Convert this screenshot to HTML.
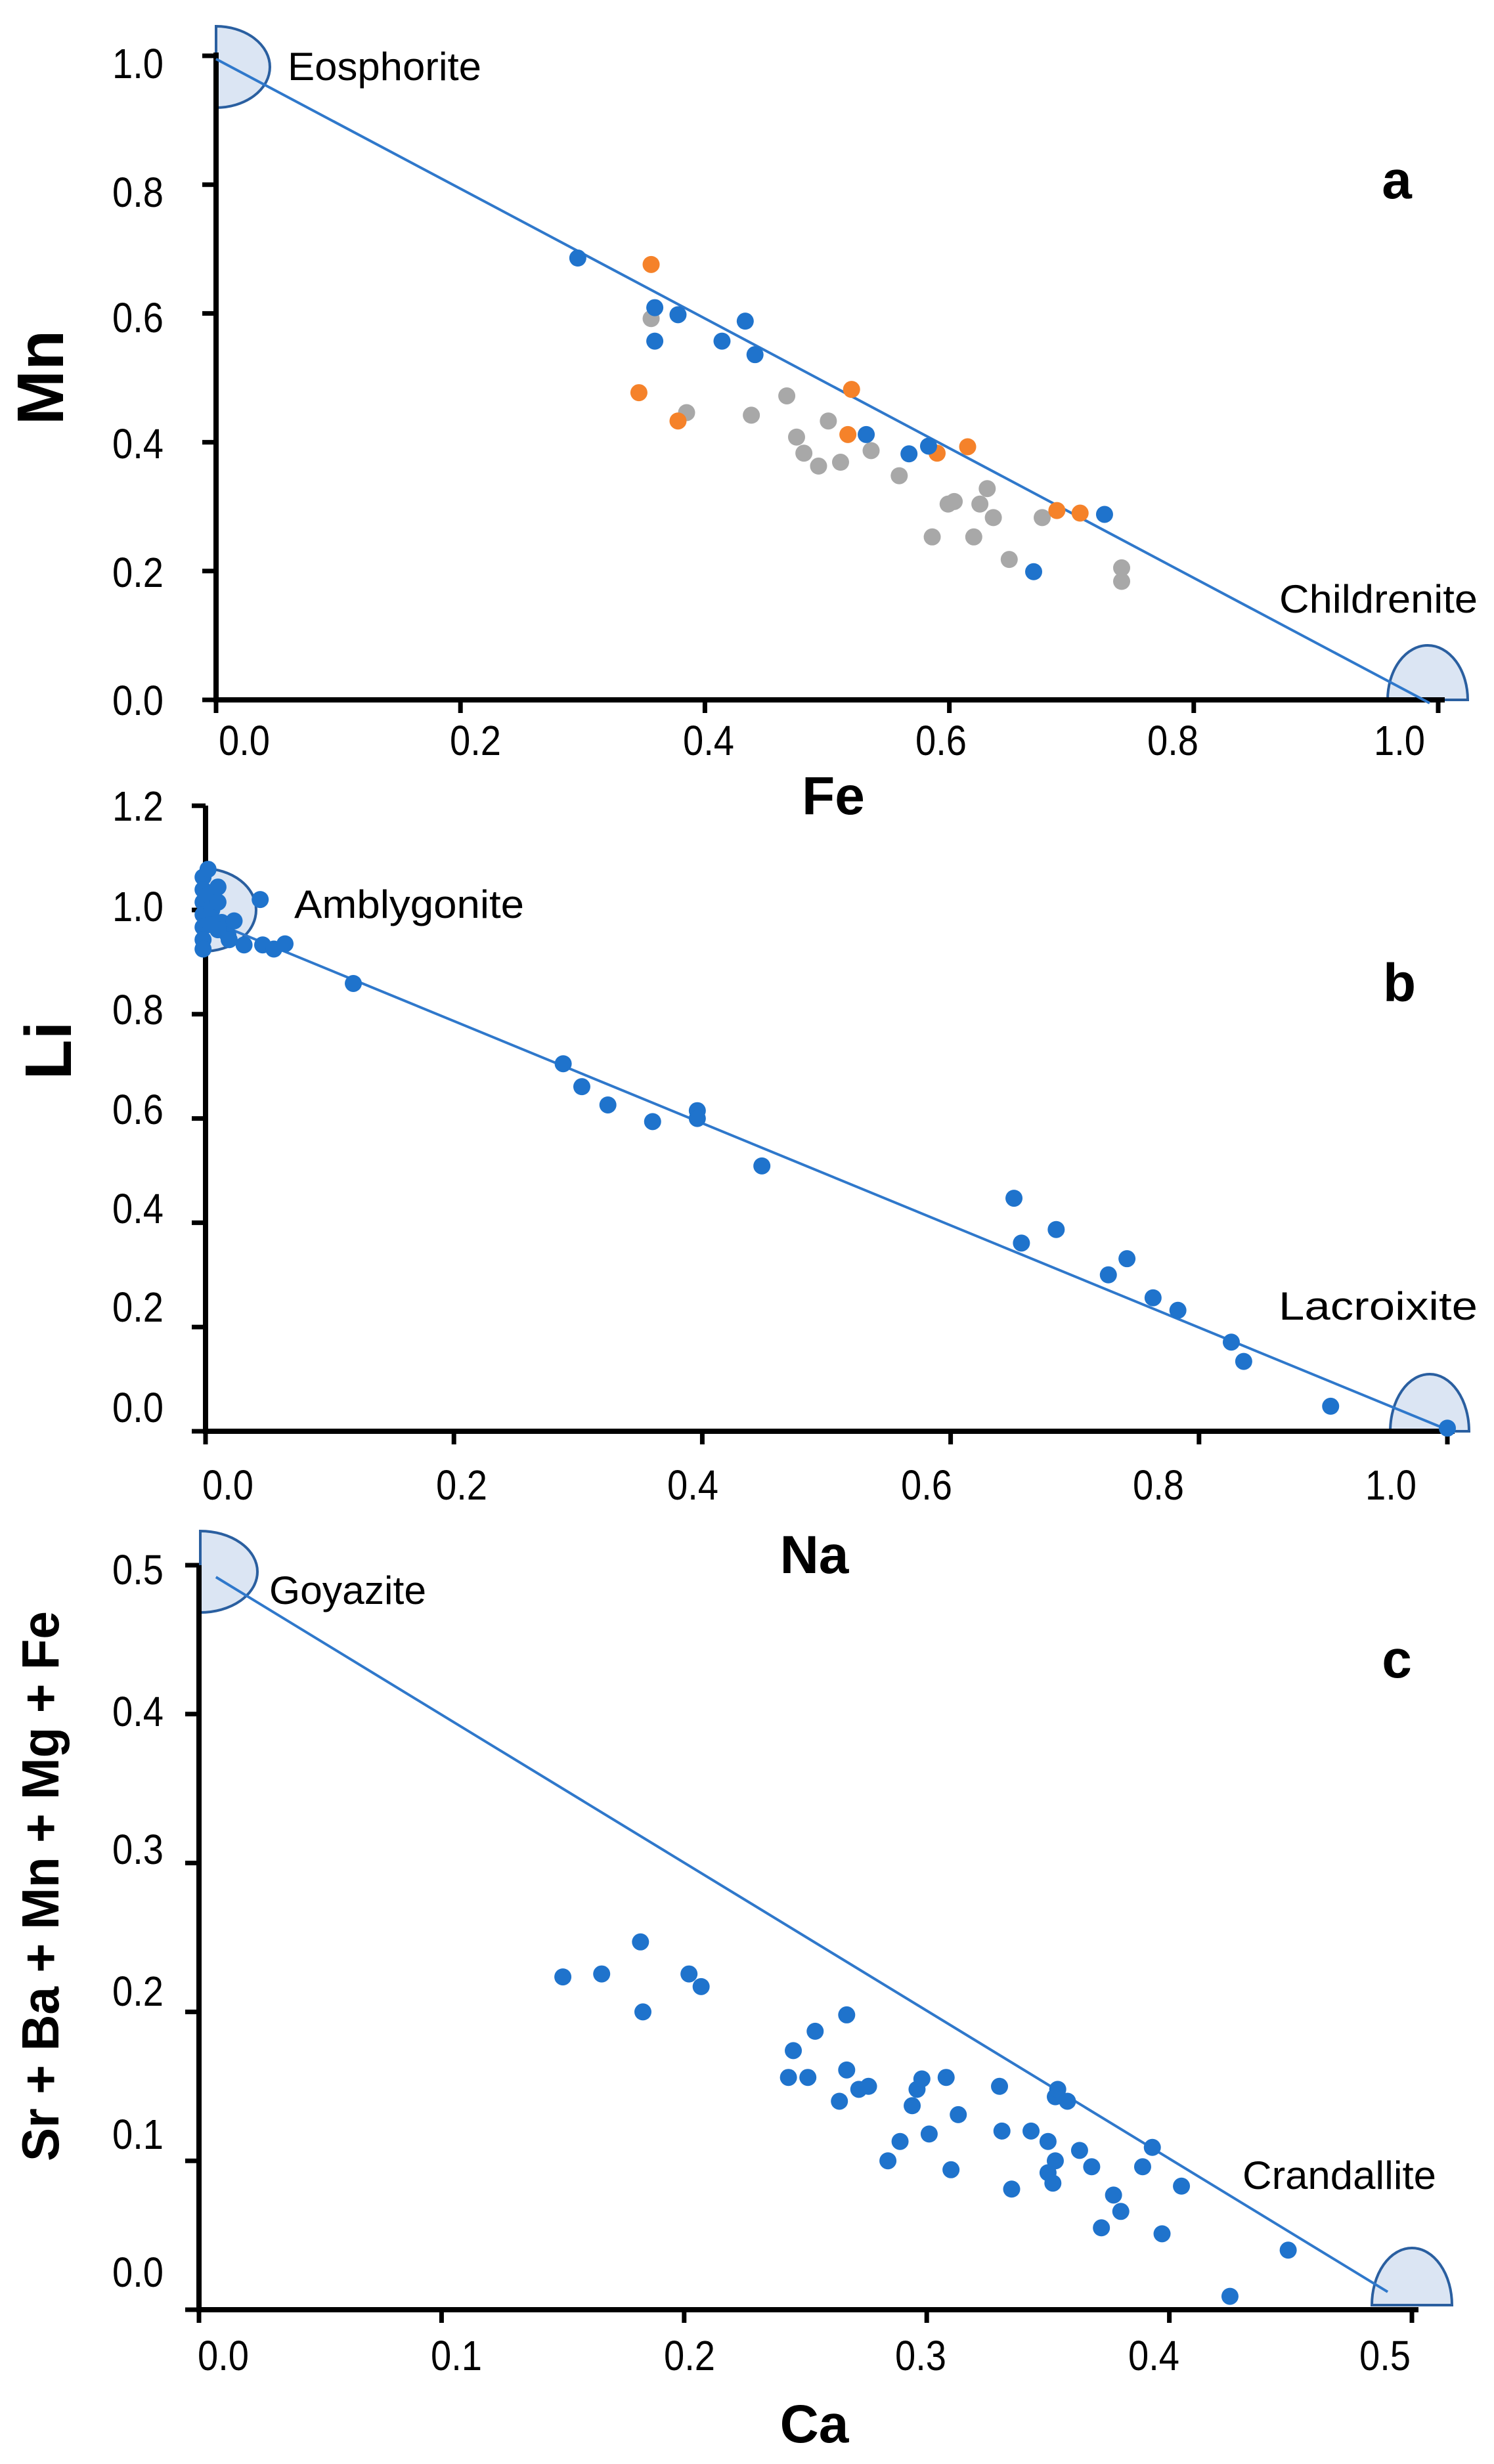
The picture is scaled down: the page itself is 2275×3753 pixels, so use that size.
<!DOCTYPE html>
<html><head><meta charset="utf-8"><style>
html,body{margin:0;padding:0;background:#fff;}
svg{display:block;}
text{font-family:"Liberation Sans",sans-serif;}
</style></head><body>
<svg id="chart" xmlns="http://www.w3.org/2000/svg" width="2275" height="3753" viewBox="0 0 2275 3753"></svg>
<script>
// Panel a data (Fe vs Mn)
const aBlueFe = [0.296,0.359,0.378,0.433,0.359,0.414,0.441,0.532,0.567,0.583,0.727,0.669];
const aBlueMn = [0.686,0.609,0.598,0.588,0.557,0.557,0.536,0.412,0.382,0.394,0.288,0.199];
const aOrangeFe = [0.356,0.346,0.378,0.520,0.517,0.590,0.615,0.688,0.707];
const aOrangeMn = [0.676,0.477,0.433,0.482,0.412,0.383,0.393,0.294,0.290];
const aGrayFe = [0.356,0.385,0.438,0.467,0.475,0.481,0.493,0.501,0.511,0.536,0.559,0.586,0.599,0.604,0.620,0.625,0.631,0.636,0.649,0.676,0.741,0.741];
const aGrayMn = [0.592,0.446,0.442,0.472,0.408,0.383,0.363,0.433,0.369,0.387,0.348,0.253,0.304,0.308,0.253,0.304,0.328,0.283,0.218,0.283,0.205,0.184];
const aTicksX = ["0.0","0.2","0.4","0.6","0.8","1.0"];
const aTicksY = ["0.0","0.2","0.4","0.6","0.8","1.0"];
// Panel b data (Na vs Li)
const bNa = [-0.002,-0.002,-0.002,-0.002,-0.002,-0.002,-0.002,0.002,0.002,0.005,0.010,0.010,0.013,0.018,0.023,0.031,0.044,0.046,0.055,0.064,0.010,0.019,0.004,
 0.119,0.288,0.303,0.324,0.360,0.396,0.396,0.448,0.651,0.657,0.685,0.727,0.742,0.763,0.783,0.826,0.836,0.906,1.0];
const bLi = [1.063,1.039,1.015,0.991,0.967,0.943,0.925,1.078,1.029,1.000,1.044,1.015,0.976,0.952,0.979,0.933,1.020,0.933,0.925,0.935,0.962,0.943,0.972,
 0.859,0.705,0.661,0.626,0.594,0.615,0.600,0.509,0.447,0.361,0.387,0.300,0.331,0.256,0.232,0.171,0.134,0.048,0.006];
const bTicksX = ["0.0","0.2","0.4","0.6","0.8","1.0"];
const bTicksY = ["0.0","0.2","0.4","0.6","0.8","1.0","1.2"];
// Panel c data (Ca vs Sr+Ba+Mn+Mg+Fe)
const cCa = [0.150,0.166,0.182,0.183,0.202,0.207,0.243,0.245,0.251,0.254,0.264,0.267,0.267,0.272,0.276,0.284,0.289,0.294,0.296,0.298,0.301,0.308,0.310,0.313,0.330,0.331,0.335,0.343,0.350,0.350,0.352,0.353,0.353,0.354,0.358,0.363,0.368,0.372,0.377,0.380,0.389,0.393,0.397,0.405,0.425,0.449];
const cSum = [0.2235,0.2255,0.247,0.200,0.2255,0.217,0.156,0.174,0.156,0.187,0.140,0.198,0.161,0.148,0.150,0.100,0.113,0.137,0.148,0.155,0.118,0.156,0.094,0.131,0.150,0.120,0.081,0.120,0.113,0.092,0.085,0.100,0.143,0.148,0.140,0.107,0.096,0.055,0.077,0.066,0.096,0.109,0.051,0.083,0.009,0.040];
const cTicksX = ["0.0","0.1","0.2","0.3","0.4","0.5"];
const cTicksY = ["0.0","0.1","0.2","0.3","0.4","0.5"];

const NS = "http://www.w3.org/2000/svg";
const svg = document.getElementById('chart');
function mk(tag, attrs, parent){
  const e = document.createElementNS(NS, tag);
  for (const k in attrs) e.setAttribute(k, attrs[k]);
  (parent||svg).appendChild(e);
  return e;
}
const BLUE="#1f73cc", ORANGE="#f5822a", GRAY="#a8a8a8", LINE="#2f78cb";

function panel(P){
  const g = mk('g', {});
  
  
  const sx = v => P.x0 + (v - P.vx0) * P.kx;
  const sy = v => P.y0 - (v - P.vy0) * P.ky;
  P.shapes.forEach(s => {
    let d;
    if (s.dir === 'right') d = `M${s.cx},${s.cy-s.ry} A${s.rx},${s.ry} 0 0 1 ${s.cx},${s.cy+s.ry} Z`;
    else d = `M${s.cx-s.rx},${s.cy} A${s.rx},${s.ry} 0 0 1 ${s.cx+s.rx},${s.cy} Z`;
    const p = mk('path', {d:d, fill:'#dbe5f3', stroke:'#2a5fa0', 'stroke-width':4}, g);
    
    
  });
  const ya = mk('line', {x1:P.x0, y1:P.yTop, x2:P.x0, y2:P.y0+4, stroke:'#000', 'stroke-width':8}, g);
  
  
  const xa = mk('line', {x1:P.x0-4, y1:P.y0, x2:P.xRight, y2:P.y0, stroke:'#000', 'stroke-width':8}, g);
  
  
  P.ticksX.forEach((t,i) => {
    const x = sx(parseFloat(t));
    mk('line', {x1:x, y1:P.y0, x2:x, y2:P.y0+20, stroke:'#000', 'stroke-width':7}, g);
    const tx = mk('text', {x:P.xLab[i], y:P.xLabY, 'font-size':64, textLength:78, lengthAdjust:'spacingAndGlyphs', 'text-anchor':'middle', fill:'#000'}, g);
    tx.textContent = t;
    
    
  });
  P.ticksY.forEach((t,i) => {
    const y = sy(parseFloat(t));
    mk('line', {x1:P.x0-21, y1:y, x2:P.x0, y2:y, stroke:'#000', 'stroke-width':7}, g);
    const ty = mk('text', {x:171, y:P.yLab[i]+23, 'font-size':64, textLength:78, lengthAdjust:'spacingAndGlyphs', fill:'#000'}, g);
    ty.textContent = t;
    
    
  });
  const ln = mk('line', {x1:sx(P.line[0]), y1:sy(P.line[1]), x2:sx(P.line[2]), y2:sy(P.line[3]), stroke:LINE, 'stroke-width':4}, g);
  
  
  P.series.forEach(s => {
    s.x.forEach((v,i) => {
      const c = mk('circle', {cx:sx(v), cy:sy(s.y[i]), r:13, fill:s.color}, g);
      
      
    });
  });
  P.labels.forEach(l => {
    const t = mk('text', {x:l.x, y:l.y, 'font-size':60, textLength:l.w, lengthAdjust:'spacingAndGlyphs', fill:'#000'}, g);
    t.textContent = l.t;
    
    
  });
  const pl = mk('text', {x:P.letter[1], y:P.letter[2], 'font-size':82, 'font-weight':'bold', 'text-anchor':'middle', fill:'#000'}, g);
  pl.textContent = P.letter[0];
  
  
  const xt = mk('text', {x:P.xTitle[1], y:P.xTitle[2], 'font-size':82, 'font-weight':'bold', 'text-anchor':'middle', fill:'#000'}, g);
  xt.textContent = P.xTitle[0];
  
  
  const fs = P.yTitle[4] || 80;
  const yattrs = {x:0, y:0, 'font-size':fs, 'font-weight':'bold', 'text-anchor':'middle', fill:'#000', transform:`translate(${P.yTitle[1]+fs*0.36},${P.yTitle[2]}) rotate(-90)`};
  if (P.yTitle[3]) { yattrs.textLength = P.yTitle[3]; yattrs.lengthAdjust = 'spacingAndGlyphs'; }
  const yt = mk('text', yattrs, g);
  yt.textContent = P.yTitle[0];
  
  
}

panel({name:'panel-a', x0:329, vx0:0, kx:1861, y0:1066, vy0:0, ky:981, yTop:80, xRight:2200,
  ticksX:aTicksX, ticksY:aTicksY,
  xLab:[372,724,1079,1433,1786,2131], xLabY:1150,
  yLab:[1066,871,675,483,292,96],
  line:[0,0.995,0.993,-0.005],
  shapes:[{name:'eosphorite',dir:'right',cx:329,cy:102,rx:82,ry:62},{name:'childrenite',dir:'up',cx:2174,cy:1066,rx:61,ry:83}],
  series:[{name:'gray',x:aGrayFe,y:aGrayMn,color:GRAY},{name:'orange',x:aOrangeFe,y:aOrangeMn,color:ORANGE},{name:'blue',x:aBlueFe,y:aBlueMn,color:BLUE}],
  labels:[{t:'Eosphorite',x:438,y:122,w:295},{t:'Childrenite',x:1948,y:933,w:302}],
  letter:['a',2127,302], xTitle:['Fe',1269,1240], yTitle:['Mn',60,575,0,100]});

panel({name:'panel-b', x0:313, vx0:0, kx:1891, y0:2180, vy0:0, ky:794, yTop:1227, xRight:2215,
  ticksX:bTicksX, ticksY:bTicksY,
  xLab:[347,703,1055,1411,1764,2118], xLabY:2284,
  yLab:[2143,1990,1840,1689,1537,1380,1227],
  line:[0.008,0.975,1.0,0.003],
  shapes:[{name:'amblygonite',dir:'right',cx:310,cy:1386,rx:80,ry:63},{name:'lacroixite',dir:'up',cx:2177,cy:2180,rx:60,ry:87}],
  series:[{name:'blue',x:bNa,y:bLi,color:BLUE}],
  labels:[{t:'Amblygonite',x:448,y:1398,w:350},{t:'Lacroixite',x:1947,y:2010,w:303}],
  letter:['b',2131,1525], xTitle:['Na',1240,2396], yTitle:['Li',72,1600,0,100]});

panel({name:'panel-c', x0:303, vx0:0, kx:3694, y0:3518, vy0:0, ky:2268, yTop:2384, xRight:2160,
  ticksX:cTicksX, ticksY:cTicksY,
  xLab:[340,695,1050,1402,1757,2109], xLabY:3610,
  yLab:[3460,3250,3032,2816,2606,2390],
  line:[0.007,0.492,0.49,0.012],
  shapes:[{name:'goyazite',dir:'right',cx:305,cy:2394,rx:87,ry:62},{name:'crandallite',dir:'up',cx:2150,cy:3511,rx:61,ry:87}],
  series:[{name:'blue',x:cCa,y:cSum,color:BLUE}],
  labels:[{t:'Goyazite',x:410,y:2443,w:239},{t:'Crandallite',x:1892,y:3334,w:295}],
  letter:['c',2127,2555], xTitle:['Ca',1240,3720], yTitle:['Sr + Ba + Mn + Mg + Fe',60,2873,838,80]});
</script>
</body></html>
